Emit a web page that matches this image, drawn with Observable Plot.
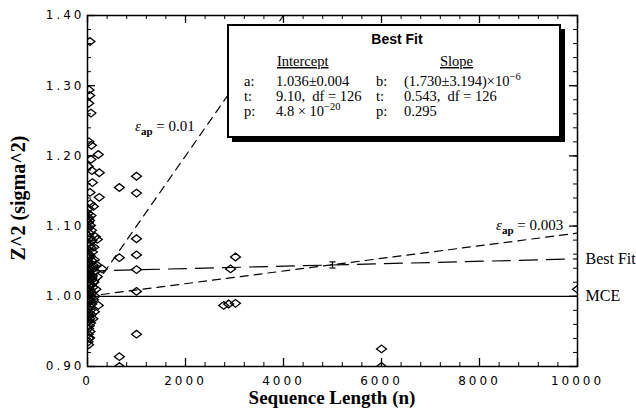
<!DOCTYPE html>
<html><head><meta charset="utf-8">
<script src="https://cdn.jsdelivr.net/npm/d3@7"></script>
<script src="https://cdn.jsdelivr.net/npm/@observablehq/plot@0.6"></script>
<style>body{margin:0;background:#fff;} svg{display:block;}</style>
</head><body><div id="chart"></div>
<script>
// ---- data ----
const seqLength = [
  50,30,45,25,70,80,220,90,240,100,650,1000,1000,240,60,120,200,1000,1000,650,300,1000,1000,220,1000,650,650,
  2780,2880,3020,2920,3020,6000,6000,10000,40,20,
  10,25,15,40,60,20,80,35,12,55,90,25,45,70,15,100,30,60,20,85,40,10,120,50,25,75,35,15,60,100,20,45,80,30,10,65,40,110,20,55,30,90,15,45,70,25,35,60,12,85,40,20,55,30,75,15,45,25,60,35,20,50,15,30,10,
  140,130,150,140,5,5,5,160,8,120,100,150,5,70,90,20,50,15,70,30,180,170,200,110,130
];
const zSquared = [
  1.363,1.294,1.286,1.275,1.261,1.215,1.202,1.179,1.176,1.162,1.155,1.171,1.147,1.141,1.132,1.128,1.081,1.082,1.059,1.055,1.039,1.038,1.007,0.987,0.946,0.914,0.900,
  0.987,0.989,0.990,1.039,1.056,0.925,0.900,1.010,0.941,0.931,
  1.118,1.112,1.105,1.108,1.101,1.097,1.094,1.090,1.086,1.083,1.079,1.076,1.072,1.069,1.066,1.063,1.060,1.057,1.054,1.051,1.048,1.046,1.044,1.042,1.040,1.037,1.035,1.033,1.031,1.029,1.027,1.025,1.023,1.021,1.019,1.017,1.015,1.013,1.011,1.009,1.007,1.005,1.003,1.001,0.999,0.997,0.995,0.993,0.991,0.989,0.986,0.983,0.980,0.977,0.974,0.971,0.968,0.965,0.962,0.958,0.954,0.950,0.946,0.940,0.935,
  1.052,1.020,1.000,0.978,1.060,1.000,0.970,1.085,1.110,0.995,1.042,1.035,1.030,1.115,1.026,1.125,1.148,1.185,1.195,1.220,1.045,1.010,1.028,0.968,1.070
];
const xTicks = [0, 2000, 4000, 6000, 8000, 10000];
const yTicks = [0.90, 1.00, 1.10, 1.20, 1.30, 1.40];
const fitIntercept = 1.036;
const fitSlope = 1.730e-6;
const epsValues = [0.01, 0.003];
const lineEnds = [0, 10000];
const errN = [5000];
const errLo = [1.0403];
const errHi = [1.0490];
const rightLabels = ["Best Fit", "MCE"];
const interceptStats = ["1.036\u00B10.004", "9.10,  df = 126", "4.8 \u00D7 10"];
const interceptSup = "\u221220";
const slopeStats = ["(1.730\u00B13.194)\u00D710", "0.543,  df = 126", "0.295"];
const slopeSup = "\u22126";

// ---- derived tables ----
const points = seqLength.map((n, i) => ({n, z: zSquared[i]}));
const fitLine = lineEnds.map(n => ({n, z: fitIntercept + fitSlope * n}));
const epsLines = epsValues.flatMap(e => lineEnds.map(n => ({eps: e, n, z: 1 + e * e * n})));
const errBars = errN.map((n, i) => ({n, lo: errLo[i], hi: errHi[i]}));
const labelRows = [
  {label: rightLabels[0], z: fitIntercept + fitSlope * lineEnds[1]},
  {label: rightLabels[1], z: 1}
];
const xMinor = d3.range(0, 10001, 400);
const yMinor = d3.range(0, 26).map(i => 0.9 + i * 0.02);

const W = 636, H = 411, ML = 87, MR = 59, MT = 15, MB = 45;
const PW = W - ML - MR, PH = H - MT - MB;
const serif = "'Liberation Serif', 'Times New Roman', serif";
const sans = "'DejaVu Sans', sans-serif";

const wideDiamond = {draw(ctx, size) {
  const r = Math.sqrt(size / Math.PI), w = r * 1.55, h = r * 1.2;
  ctx.moveTo(-w, 0); ctx.lineTo(0, -h); ctx.lineTo(w, 0); ctx.lineTo(0, h); ctx.closePath();
}};
const capSymbol = {draw(ctx, size) {
  const r = Math.sqrt(size / Math.PI);
  ctx.moveTo(-r, 0); ctx.lineTo(r, 0);
}};

const plot = Plot.plot({
  width: W, height: H,
  marginLeft: ML, marginRight: MR, marginTop: MT, marginBottom: MB,
  x: {domain: [0, 10000]},
  y: {domain: [0.9, 1.4]},
  style: {background: "white", overflow: "visible", fontFamily: sans},
  marks: [
    Plot.ruleY([1], {stroke: "black", strokeWidth: 1.2}),
    Plot.line(fitLine, {x: "n", y: "z", stroke: "black", strokeWidth: 1.2, strokeDasharray: "18,9", clip: true}),
    Plot.line(epsLines, {x: "n", y: "z", z: "eps", stroke: "black", strokeWidth: 1.2, strokeDasharray: "8,6", clip: true}),
    Plot.ruleX(errBars, {x: "n", y1: "lo", y2: "hi", stroke: "black", strokeWidth: 1.2}),
    Plot.dot(errBars, {x: "n", y: "lo", symbol: capSymbol, r: 3, stroke: "black", strokeWidth: 1.2}),
    Plot.dot(errBars, {x: "n", y: "hi", symbol: capSymbol, r: 3, stroke: "black", strokeWidth: 1.2}),
    Plot.dot(points, {x: "n", y: "z", symbol: wideDiamond, r: 3.2, stroke: "black", fill: "none", strokeWidth: 1.3, clip: true}),
    // inward ticks
    Plot.tickX(xMinor, {x: d => d, insetTop: PH - 4, stroke: "black"}),
    Plot.tickX(xMinor, {x: d => d, insetBottom: PH - 4, stroke: "black"}),
    Plot.tickX(xTicks, {x: d => d, insetTop: PH - 8, stroke: "black", strokeWidth: 1.3}),
    Plot.tickX(xTicks, {x: d => d, insetBottom: PH - 8, stroke: "black", strokeWidth: 1.3}),
    Plot.tickY(yMinor, {y: d => d, insetRight: PW - 4, stroke: "black"}),
    Plot.tickY(yMinor, {y: d => d, insetLeft: PW - 4, stroke: "black"}),
    Plot.tickY(yTicks, {y: d => d, insetRight: PW - 8, stroke: "black", strokeWidth: 1.3}),
    Plot.tickY(yTicks, {y: d => d, insetLeft: PW - 8, stroke: "black", strokeWidth: 1.3}),
    Plot.frame({stroke: "black", strokeWidth: 1.5}),
    Plot.axisX({ticks: xTicks, tickSize: 0, tickPadding: 10, tickFormat: d => String(d), label: null, fontSize: 12, fontFamily: sans}),
    Plot.axisY({ticks: yTicks, tickSize: 0, tickPadding: 3, tickFormat: d3.format(".2f"), label: null, fontSize: 12, fontFamily: sans}),
    Plot.text(labelRows, {x: () => lineEnds[1], y: "z", text: "label", dx: 8, textAnchor: "start", fontFamily: serif, fontSize: 16, fill: "black"})
  ]
});
document.getElementById("chart").appendChild(plot);

const svg = d3.select(plot);
svg.selectAll('g[aria-label="x-axis tick label"] text, g[aria-label="y-axis tick label"] text')
  .style("letter-spacing", "3px").attr("fill", "black");

const xs = plot.scale("x"), ys = plot.scale("y");

// epsilon labels
function epsLabel(x, y, value) {
  const t = svg.append("text").attr("x", x).attr("y", y).attr("text-anchor", "end")
    .attr("font-family", serif).attr("font-size", 15).attr("fill", "black").style("white-space", "pre");
  t.append("tspan").attr("font-style", "italic").text("\u03B5");
  t.append("tspan").attr("font-size", 11).attr("font-weight", "bold").attr("dy", 4).text("ap");
  t.append("tspan").attr("dy", -4).text(" = " + value);
}
epsLabel(xs.apply(2200), ys.apply(1.235), String(epsValues[0]));
epsLabel(xs.apply(9720), ys.apply(1.094), String(epsValues[1]));

// axis titles
svg.append("text").attr("x", ML + PW / 2).attr("y", 404).attr("text-anchor", "middle")
  .attr("font-family", serif).attr("font-weight", "bold").attr("font-size", 19).attr("fill", "black")
  .text("Sequence Length (n)");
svg.append("text").attr("transform", "translate(25,198) rotate(-90)").attr("text-anchor", "middle")
  .attr("font-family", serif).attr("font-weight", "bold").attr("font-size", 20).attr("fill", "black")
  .text("Z^2 (sigma^2)");

// Best fit box
const bx = 228, by = 25, bw = 332, bh = 112;
const box = svg.append("g");
box.append("rect").attr("x", bx + 4).attr("y", by + 4).attr("width", bw + 1).attr("height", bh + 1).attr("fill", "black");
box.append("rect").attr("x", bx).attr("y", by).attr("width", bw).attr("height", bh)
  .attr("fill", "white").attr("stroke", "black").attr("stroke-width", 2);
box.append("text").attr("x", 397).attr("y", 44).attr("text-anchor", "middle")
  .attr("font-family", "'Liberation Sans', Arial, sans-serif").attr("font-weight", "bold").attr("font-size", 14)
  .attr("fill", "black").text("Best Fit");
const tx = (x, y, s) => box.append("text").attr("x", x).attr("y", y).attr("text-anchor", "start")
  .attr("font-family", serif).attr("font-size", 14.5).attr("fill", "black").style("white-space", "pre").text(s);
tx(277, 66, "Intercept").attr("text-decoration", "underline");
tx(440, 66, "Slope").attr("text-decoration", "underline");
const rowsY = [86, 101, 116];
const keysL = ["a:", "t:", "p:"], keysR = ["b:", "t:", "p:"];
rowsY.forEach((y, i) => {
  tx(244, y, keysL[i]);
  const a = tx(276, y, interceptStats[i]);
  if (i === 2) a.append("tspan").attr("dy", -6).attr("font-size", 10.5).text(interceptSup);
  tx(376, y, keysR[i]);
  const b = tx(404, y, slopeStats[i]);
  if (i === 0) b.append("tspan").attr("dy", -6).attr("font-size", 10.5).text(slopeSup);
});
</script>
</body></html>
